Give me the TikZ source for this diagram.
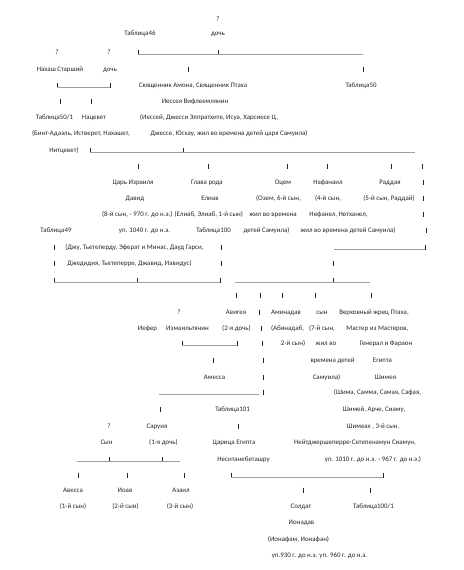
\documentclass[tikz,border=0pt]{standalone}
\usepackage{fontspec}
\setmainfont{Carlito}
\usepackage{tikz}
\usepackage{xcolor}
\definecolor{Ink}{HTML}{262626}
\definecolor{Rule}{HTML}{9E9E9E}
\newcommand{\vstroke}[2]{\draw[Ink,line width=0.55pt] (#1,#2-2.5) -- (#1,#2+2.5);}
\newcommand{\hstroke}[3]{\draw[Rule,line width=0.7pt] (#1,#3+2.5) -- (#2,#3+2.5);}

\begin{document}
\begin{tikzpicture}[x=1pt,y=-1pt,
  txt/.style={font=\fontsize{6.9}{8}\selectfont,text=Ink,inner sep=0pt,anchor=mid}]
  \fill[white] (0,0) rectangle (463,570);
  \useasboundingbox (0,0) rectangle (463,570);
  % top generations
  \node[txt] (q1) at (218,19) {?};
  \node[txt] (tab46) at (140,33) {Таблица46};
  \node[txt] (doch1) at (218,33) {дочь};
  \node[txt] (q2) at (57,52) {?};
  \node[txt] (q3) at (109,52) {?};
  \vstroke{138}{52} \hstroke{138}{218}{52} \vstroke{218}{52} \hstroke{218}{363}{52}
  \node[txt] (nahash) at (60,69) {Нахаш Старший};
  \node[txt] (doch2) at (110,69) {дочь};
  \vstroke{188}{69} \vstroke{363}{69}
  \vstroke{57}{85} \hstroke{57}{110}{85} \vstroke{110}{85}
  \node[txt] (priest) at (193,85) {Священник Амона, Священник Птаха};
  \node[txt] (tab50) at (361,85) {Таблица50};
  \vstroke{60}{101} \vstroke{91}{101}
  \node[txt] (iessey) at (195,101) {Иессея Вифлеемлянин};
  \node[txt] (tab501) at (54.5,117) {Таблица50/1};
  \node[txt] (nacevet) at (94,117) {Нацевет};
  \node[txt] (iesseynames) at (209,117) {(Иессей, Джесси Элпратхите, Исуа, Харсиесе Ц,};
  \node[txt] (bint) at (81,133) {(Бинт-Адаэль, Истверет, Нахашет,};
  \node[txt] (dzhesse) at (229,133) {Джессе, Юсхау, жил во времена детей царя Самуила)};
  \node[txt] (nitcevet) at (64,150) {Нитцевет)};
  \vstroke{90}{150} \hstroke{90}{183}{150} \vstroke{183}{150} \hstroke{183}{415}{150}
  % sons of Jesse
  \foreach \x in {138,208,287,327,391,422} {\vstroke{\x}{166}}
  \node[txt] (tsar) at (133,182) {Царь Израиля};
  \node[txt] (glava) at (207,182) {Глава рода};
  \node[txt] (ocem) at (283,182) {Оцем};
  \node[txt] (nafanail) at (328,182) {Нафанаил};
  \node[txt] (raddaya) at (390,182) {Раддая};
  \vstroke{423}{182}
  \node[txt] (david) at (135,198) {Давид};
  \node[txt] (eliav) at (210,198) {Елиав};
  \node[txt] (ozem) at (278.5,198) {(Озем, 6-й сын,};
  \node[txt] (son4) at (328,198) {(4-й сын,};
  \node[txt] (son5) at (389,198) {(5-й сын, Раддай)};
  \vstroke{423}{198}
  \node[txt] (davidnote) at (172.5,214) {(8-й сын, - 970 г. до н.э.) (Елиаб, Элиаб, 1-й сын)};
  \node[txt] (zhil1) at (273,214) {жил во времена};
  \node[txt] (nefanel) at (338.5,214) {Нефанел, Нетханел,};
  \vstroke{423}{214}
  \node[txt] (tab49) at (56,230) {Таблица49};
  \node[txt] (up1040) at (144.5,230) {уп. 1040 г. до н.э.};
  \node[txt] (tab100) at (213.5,230) {Таблица100};
  \node[txt] (detey1) at (266.5,230) {детей Самуила)};
  \node[txt] (zhil2) at (348,230) {жил во времена детей Самуила)};
  \vstroke{426}{230}
  % David's line
  \vstroke{54}{247} \vstroke{221}{247}
  \node[txt] (dzhu) at (134.5,247) {(Джу, Тьетеперду, Эферат и Минас, Дауд Гарси,};
  \hstroke{334}{425}{247} \vstroke{425}{247}
  \vstroke{54}{263} \vstroke{221}{263} \vstroke{333}{263}
  \node[txt] (dzhedidia) at (129.5,263) {Джедидия, Тьетеперре, Джавид, Иавидус)};
  \vstroke{54}{280} \hstroke{54}{137}{280} \vstroke{137}{280} \hstroke{137}{220}{280} \vstroke{220}{280}
  \hstroke{235}{333}{280} \vstroke{333}{280} \hstroke{333}{370}{280}
  % daughters and sons
  \foreach \x in {236,260,282,315,371} {\vstroke{\x}{295}}
  \node[txt] (q4) at (179,312) {?};
  \node[txt] (avigeya) at (236,312) {Авигея};
  \vstroke{259}{312}
  \node[txt] (aminadav) at (286,312) {Аминадав};
  \node[txt] (syn1) at (322,312) {сын};
  \node[txt] (ptah) at (374,312) {Верховный жрец Птаха,};
  \node[txt] (iefer) at (147.5,328) {Иефер};
  \node[txt] (izmail) at (187.5,328) {Измаильтянин};
  \node[txt] (doch3) at (236.5,328) {(2-я дочь)};
  \vstroke{261}{328}
  \node[txt] (abinadab) at (287.5,328) {(Абинадаб,};
  \node[txt] (son7) at (322,328) {(7-й сын,};
  \node[txt] (master) at (377.5,328) {Мастер из Мастеров,};
  \vstroke{182}{343} \hstroke{182}{237}{343} \vstroke{237}{343} \vstroke{262}{343}
  \node[txt] (son2) at (293,343) {2-й сын)};
  \node[txt] (zhil3) at (326,343) {жил во};
  \node[txt] (general) at (386,343) {Генерал и Фараон};
  \vstroke{213}{360} \vstroke{263}{360}
  \node[txt] (vremena) at (332.5,360) {времена детей};
  \node[txt] (egypt1) at (382.5,360) {Египта};
  \node[txt] (amessa) at (214.5,377) {Амесса};
  \vstroke{263}{377}
  \node[txt] (samuil) at (326.5,377) {Самуила)};
  \node[txt] (shimeya) at (385.5,377) {Шимея};
  \hstroke{159}{259}{392} \vstroke{263}{392}
  \node[txt] (shima) at (377.5,392) {(Шима, Самма, Самая, Сафая,};
  \vstroke{160}{409}
  \node[txt] (tab101) at (232.5,409) {Таблица101};
  \node[txt] (shimey) at (374,409) {Шимей, Арче, Сиаму,};
  \node[txt] (q5) at (109,426) {?};
  \node[txt] (saruiya) at (157,426) {Саруия};
  \vstroke{238}{426}
  \node[txt] (shimeah) at (373,426) {Шимеах , 3-й сын,};
  \node[txt] (syn2) at (106.5,442) {Сын};
  \node[txt] (doch4) at (163.5,442) {(1-я дочь)};
  \node[txt] (queen) at (234,442) {Царица Египта};
  \node[txt] (siamun) at (355,442) {Нейтджершеперре-Сетепенамун Сиамун,};
  \hstroke{77}{109}{459} \vstroke{109}{459} \hstroke{109}{162}{459} \vstroke{162}{459} \hstroke{162}{180}{459}
  \node[txt] (nesi) at (243.5,459) {Неситанебеташру};
  \node[txt] (up1010) at (373,459) {уп. 1010 г. до н.э. - 967 г. до н.э.)};
  \foreach \x in {78,127,184} {\vstroke{\x}{475}}
  \vstroke{231}{475} \hstroke{231}{383}{475} \vstroke{383}{475}
  % grandsons
  \node[txt] (avessa) at (73,490) {Авесса};
  \node[txt] (ioav) at (125,490) {Иоав};
  \node[txt] (azail) at (181,490) {Азаил};
  \vstroke{303}{490} \vstroke{370}{490}
  \node[txt] (son1a) at (73,506) {(1-й сын)};
  \node[txt] (son2a) at (125.5,506) {(2-й сын)};
  \node[txt] (son3a) at (180,506) {(3-й сын)};
  \node[txt] (soldat) at (301,506) {Солдат};
  \node[txt] (tab1001) at (373.5,506) {Таблица100/1};
  \node[txt] (ionadav) at (301.5,522) {Ионадав};
  \node[txt] (ionafam) at (298.5,539) {(Ионафам, Ионафан)};
  \node[txt] (up930) at (319.5,555) {уп.930 г. до н.э. уп. 960 г. до н.э.};
\end{tikzpicture}
\end{document}
